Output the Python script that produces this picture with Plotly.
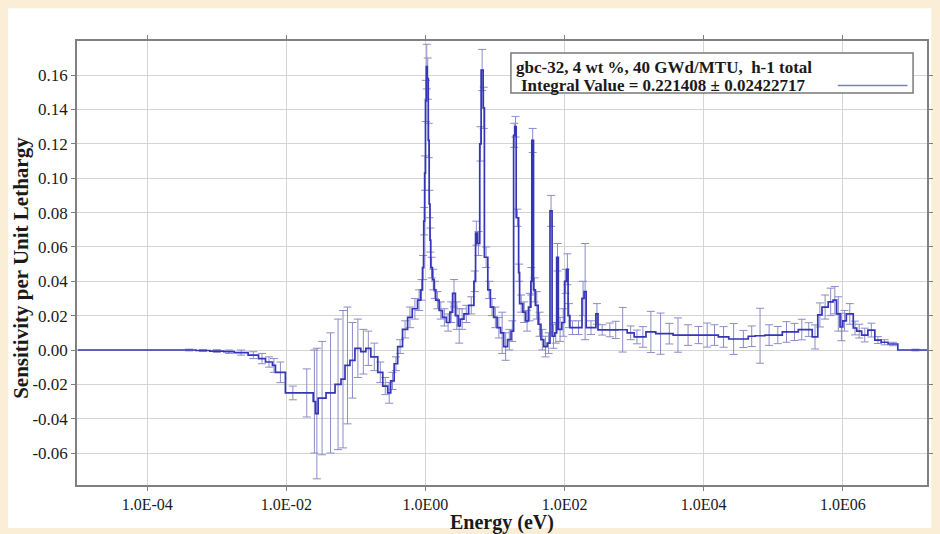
import plotly.graph_objects as go

# ---- data (log10 of group lower bound in eV, sensitivity, 1-sigma) ----
log10_group_lower_ev = [
    -5.0, -3.5, -3.3, -3.1, -2.9, -2.75, -2.55, -2.4, -2.3, -2.2, -2.157, -2.014, -1.8,
    -1.614, -1.58, -1.543, -1.43, -1.3, -1.214, -1.157, -1.086, -1.014, -0.93, -0.857,
    -0.786, -0.686, -0.614, -0.543, -0.50, -0.45, -0.40, -0.33, -0.257, -0.19, -0.114,
    -0.07, -0.043, -0.025, -0.012, 0.0, 0.012, 0.025, 0.04, 0.053, 0.065, 0.076, 0.1,
    0.124, 0.147, 0.196, 0.243, 0.30, 0.35, 0.39, 0.43, 0.47, 0.50, 0.553, 0.62, 0.696,
    0.72, 0.743, 0.78, 0.80, 0.829, 0.847, 0.896, 0.933, 0.98, 1.029, 1.08, 1.124, 1.18,
    1.23, 1.267, 1.285, 1.304, 1.339, 1.353, 1.40, 1.44, 1.481, 1.515, 1.529, 1.553, 1.58,
    1.62, 1.66, 1.70, 1.75, 1.79, 1.82, 1.86, 1.886, 1.91, 1.96, 2.0, 2.03, 2.05, 2.076,
    2.15, 2.25, 2.28, 2.31, 2.45, 2.48, 2.6, 2.7, 2.77, 2.90, 3.0, 3.08, 3.17, 3.31, 3.45,
    3.56, 3.70, 3.85, 4.0, 4.1, 4.21, 4.36, 4.5, 4.64, 4.74, 4.88, 5.0, 5.13, 5.25, 5.36,
    5.46, 5.56, 5.64, 5.70, 5.79, 5.86, 5.91, 5.96, 6.00, 6.05, 6.15, 6.20, 6.27, 6.36,
    6.46, 6.55, 6.65, 6.79,
]
log10_upper_bound_ev = 7.30

sensitivity = [
    0.0, 0.0, -0.0003, -0.0006, -0.0010, -0.0015, -0.003, -0.005, -0.007, -0.009, -0.013,
    -0.025, -0.025, -0.030, -0.037, -0.028, -0.025, -0.020, -0.017, -0.009, -0.006, 0.001,
    -0.001, 0.001, -0.004, -0.013, -0.021, -0.025, -0.018, -0.008, 0.002, 0.012, 0.019,
    0.024, 0.029, 0.035, 0.048, 0.075, 0.103, 0.145, 0.165, 0.158, 0.122, 0.085, 0.064,
    0.048, 0.041, 0.035, 0.029, 0.023, 0.019, 0.016, 0.022, 0.033, 0.020, 0.014, 0.018,
    0.021, 0.026, 0.040, 0.068, 0.062, 0.120, 0.163, 0.141, 0.054, 0.035, 0.025, 0.019,
    0.013, 0.010, 0.002, 0.006, 0.011, 0.125, 0.130, 0.077, 0.045, 0.027, 0.022, 0.017,
    0.025, 0.040, 0.122, 0.035, 0.026, 0.015, 0.006, 0.002, 0.004, 0.081, 0.008, 0.010,
    0.054, 0.012, 0.016, 0.040, 0.047, 0.020, 0.013, 0.013, 0.030, 0.034, 0.013, 0.021,
    0.0117, 0.0117, 0.0117, 0.0118, 0.010, 0.0076, 0.0076, 0.0105, 0.0095, 0.0095, 0.0087,
    0.0087, 0.0087, 0.0087, 0.0087, 0.0076, 0.0064, 0.0064, 0.008, 0.0083, 0.0087, 0.0087,
    0.0105, 0.0105, 0.0119, 0.0119, 0.0076, 0.0204, 0.025, 0.028, 0.029, 0.021, 0.0134,
    0.017, 0.021, 0.0128, 0.011, 0.0087, 0.0116, 0.0058, 0.0045, 0.0035, 0.0,
]

sigma = [
    0.0, 0.0005, 0.0006, 0.0008, 0.0010, 0.0015, 0.002, 0.003, 0.003, 0.004, 0.006,
    0.004, 0.014, 0.030, 0.038, 0.033, 0.035, 0.038, 0.040, 0.034, 0.022, 0.017,
    0.013, 0.010, 0.008, 0.006, 0.005, 0.006, 0.005, 0.004, 0.004, 0.005, 0.006,
    0.006, 0.006, 0.006, 0.007, 0.008, 0.010, 0.012, 0.013, 0.012, 0.010, 0.008, 0.007,
    0.006, 0.006, 0.005, 0.005, 0.005, 0.005, 0.005, 0.006, 0.008, 0.008, 0.010, 0.006,
    0.005, 0.005, 0.006, 0.007, 0.007, 0.010, 0.012, 0.012, 0.006, 0.005, 0.005, 0.006,
    0.006, 0.012, 0.008, 0.006, 0.006, 0.007, 0.006, 0.005, 0.005, 0.005, 0.006, 0.006,
    0.008, 0.008, 0.007, 0.007, 0.008, 0.007, 0.006, 0.006, 0.006, 0.009, 0.007, 0.006,
    0.008, 0.007, 0.008, 0.007, 0.009, 0.007, 0.004, 0.004, 0.010, 0.028, 0.004, 0.006,
    0.003, 0.004, 0.005, 0.013, 0.004, 0.004, 0.006, 0.012, 0.012, 0.006, 0.010,
    0.006, 0.005, 0.007, 0.006, 0.006, 0.009, 0.005, 0.006, 0.016, 0.006, 0.005,
    0.006, 0.005, 0.006, 0.004, 0.007, 0.007, 0.007, 0.008, 0.008, 0.010, 0.008,
    0.006, 0.006, 0.004, 0.004, 0.004, 0.004, 0.002, 0.0015, 0.001, 0.0005,
]

x_tick_energies = [1e-4, 1e-2, 1e0, 1e2, 1e4, 1e6]
x_tick_labels = ["1.0E-04", "1.0E-02", "1.0E00", "1.0E02", "1.0E04", "1.0E06"]
y_tick_values = [-0.06, -0.04, -0.02, 0.0, 0.02, 0.04, 0.06, 0.08, 0.10, 0.12, 0.14, 0.16]
y_tick_labels = ["-0.06", "-0.04", "-0.02", "0.00", "0.02", "0.04", "0.06", "0.08",
                 "0.10", "0.12", "0.14", "0.16"]

legend_title = "gbc-32, 4 wt %, 40 GWd/MTU,  h-1 total"
legend_entry = "Integral Value = 0.221408 ± 0.02422717"

# ---- derived arrays ----
edges_ev = [10 ** v for v in log10_group_lower_ev] + [10 ** log10_upper_bound_ev]
step_x = edges_ev
step_y = sensitivity + [sensitivity[-1]]

mid_x, mid_y, mid_e = [], [], []
for i, s in enumerate(sigma):
    if s > 0:
        mid_x.append((edges_ev[i] * edges_ev[i + 1]) ** 0.5)
        mid_y.append(sensitivity[i])
        mid_e.append(s)

LINE = "#3535b8"
ERR = "#8c8cc8"
SERIF = "Liberation Serif"

fig = go.Figure()
fig.add_trace(go.Scatter(
    x=mid_x, y=mid_y, mode="markers",
    marker=dict(size=1, color="rgba(0,0,0,0)"),
    error_y=dict(type="data", array=mid_e, visible=True, color=ERR, thickness=1, width=4),
    showlegend=False, hoverinfo="skip",
))
fig.add_trace(go.Scatter(
    x=step_x, y=step_y, mode="lines", line=dict(color=LINE, width=1.7, shape="hv"),
    showlegend=False,
))

# white panel on cream page
fig.add_shape(type="rect", xref="paper", yref="paper", x0=-0.081, x1=1.005, y0=-0.097, y1=1.074,
              fillcolor="white", line=dict(width=0), layer="below")

# legend box
fig.add_shape(type="rect", xref="paper", yref="paper", x0=0.5105, x1=0.9836, y0=0.883, y1=0.973,
              fillcolor="white", line=dict(color="#7a7a7a", width=1.5), layer="above")
fig.add_shape(type="line", xref="paper", yref="paper", x0=0.895, x1=0.977, y0=0.900, y1=0.900,
              line=dict(color="#7b7bd0", width=1.5), layer="above")
fig.add_annotation(xref="paper", yref="paper", x=0.514, y=0.940, xanchor="left", yanchor="middle",
                   text="<b>" + legend_title + "</b>", showarrow=False,
                   font=dict(family=SERIF, size=17, color="#1a1a1a"))
fig.add_annotation(xref="paper", yref="paper", x=0.520, y=0.899, xanchor="left", yanchor="middle",
                   text="<b>" + legend_entry + "</b>", showarrow=False,
                   font=dict(family=SERIF, size=17, color="#1a1a1a"))

# axis titles
fig.add_annotation(xref="paper", yref="paper", x=0.5, y=-0.085, xanchor="center", yanchor="middle",
                   text="<b>Energy (eV)</b>", showarrow=False,
                   font=dict(family=SERIF, size=20, color="#1a1a1a"))
fig.add_annotation(xref="paper", yref="paper", x=-0.0654, y=0.49, xanchor="center", yanchor="middle",
                   text="<b>Sensitivity per Unit Lethargy</b>", textangle=-90, showarrow=False,
                   font=dict(family=SERIF, size=21, color="#1a1a1a"))

fig.update_layout(
    width=940, height=534,
    margin=dict(l=77, r=7, t=41, b=49),
    paper_bgcolor="#fbeed6",
    plot_bgcolor="white",
    showlegend=False,
)
fig.update_xaxes(
    type="log", range=[-5.01, 7.21],
    tickvals=x_tick_energies, ticktext=x_tick_labels,
    tickfont=dict(family=SERIF, size=16, color="#1a1a1a"),
    showgrid=True, gridcolor="#d4d4d4", gridwidth=1,
    showline=True, linecolor="#808080", linewidth=1.5, mirror="ticks",
    ticks="outside", ticklen=4, tickcolor="#808080",
    zeroline=False,
)
fig.update_yaxes(
    range=[-0.0786, 0.1799],
    tickvals=y_tick_values, ticktext=y_tick_labels,
    tickfont=dict(family=SERIF, size=17, color="#1a1a1a"),
    showgrid=True, gridcolor="#d4d4d4", gridwidth=1,
    showline=True, linecolor="#808080", linewidth=1.5, mirror="ticks",
    ticks="outside", ticklen=4, tickcolor="#808080",
    zeroline=False,
)

fig.write_html("out.html")
